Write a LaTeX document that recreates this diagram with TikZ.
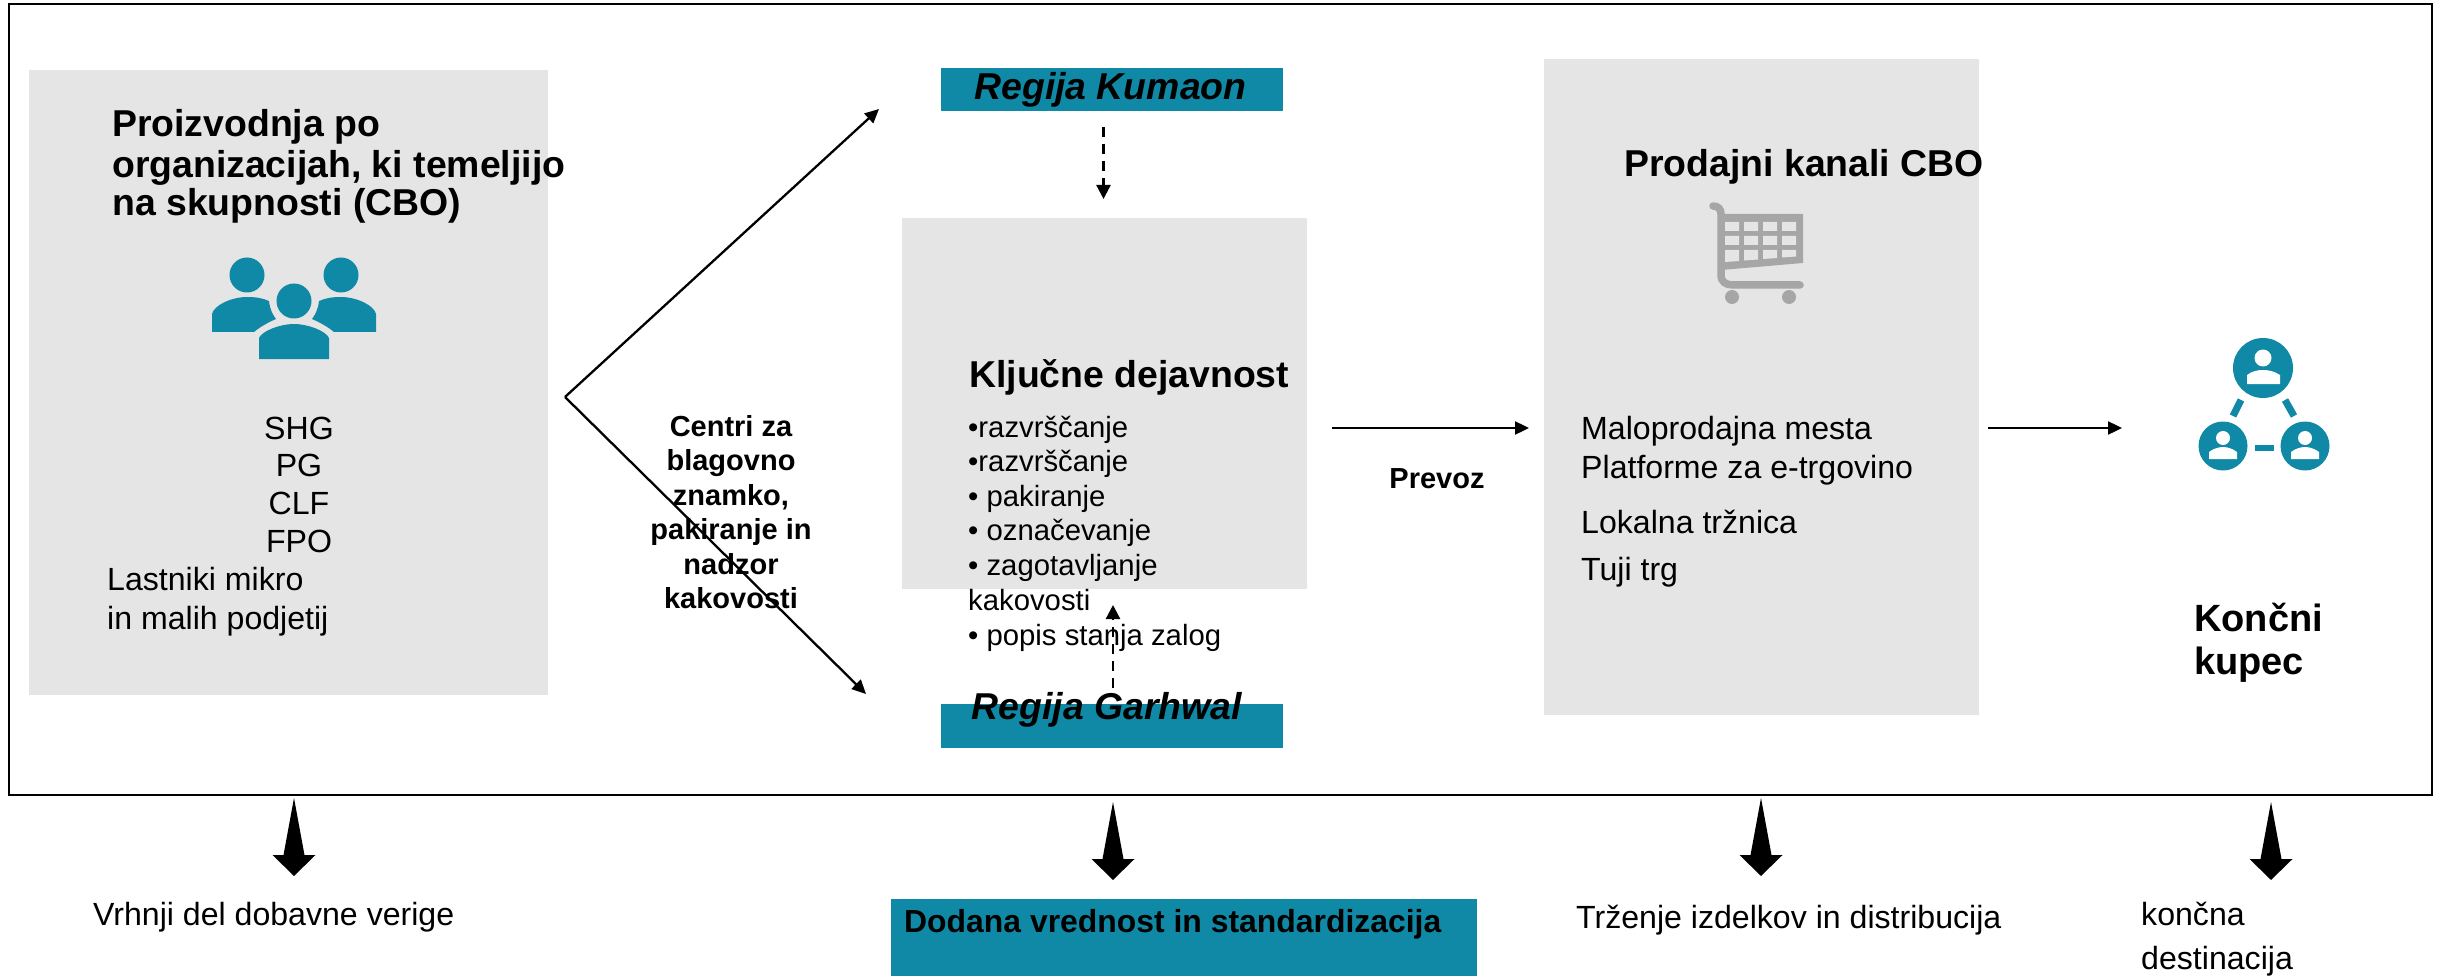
\documentclass[tikz,border=0pt]{standalone}
\usepackage{fontspec}
\setmainfont{Liberation Sans}
\usetikzlibrary{arrows.meta}
\definecolor{teal1}{HTML}{0F89A5}
\definecolor{boxg}{HTML}{E5E5E5}
\definecolor{cartg}{HTML}{A6A6A6}
\newcommand{\fs}[2]{\fontsize{#1}{#2}\selectfont}
\tikzset{
  x=1pt,y=-1pt,
  graybox/.style={fill=boxg,draw=none},
  tealbar/.style={fill=teal1,draw=none},
  icon/.style={fill=teal1,draw=none},
  carticon/.style={fill=cartg,draw=none},
  head/.style={inner sep=0,anchor=base west,align=left,font=\bfseries\fs{37.4}{40}},
  body/.style={inner sep=0,anchor=base west,align=left,font=\fs{32.1}{35}},
  cent/.style={inner sep=0,anchor=base,font=\bfseries\fs{29}{34.5}},
  ital/.style={inner sep=0,anchor=base,font=\bfseries\itshape\fs{37.4}{40}},
  lst/.style={inner sep=0,anchor=base west,font=\fs{29.3}{34}},
  flow/.style={line width=2.3pt,-{Triangle[length=14pt,width=13pt]}},
  dflow/.style={line width=2.3pt,dash pattern=on 10pt off 7pt,-{Triangle[length=14pt,width=14pt]}},
  downarrow/.style={fill=black,draw=none},
}
\begin{document}
\begin{tikzpicture}
\useasboundingbox (0,0) rectangle (2439,976);
\fill[white] (0,0) rectangle (2439,976);
\node[draw=black,line width=2pt,minimum width=2423pt,minimum height=790pt,inner sep=0,outer sep=0,anchor=north west] (frame) at (9,4.5) {};
\node[graybox,minimum width=519pt,minimum height=625pt,inner sep=0,anchor=north west] (left) at (28.5,70) {};
\node[graybox,minimum width=405pt,minimum height=371pt,inner sep=0,anchor=north west] (mid) at (902,218) {};
\node[graybox,minimum width=434.5pt,minimum height=656pt,inner sep=0,anchor=north west] (right) at (1544,59) {};
\node[tealbar,minimum width=342pt,minimum height=43pt,inner sep=0,anchor=north west] (kum) at (941,67.5) {};
\node[tealbar,minimum width=342pt,minimum height=44pt,inner sep=0,anchor=north west] (gar) at (941,704) {};
\node[tealbar,minimum width=586pt,minimum height=77pt,inner sep=0,anchor=north west] (dod) at (891,899) {};

% people icon
\fill[icon] (247,275) circle (17.5) (341,275) circle (17.5) (294,301) circle (17.5);
\fill[icon] (212,332) -- (212,314) .. controls (214,305) and (232,297) .. (247,297) .. controls (256,297) and (262,298) .. (269,301) .. controls (270,310) and (273,315) .. (276,319) .. controls (267,323) and (260,327) .. (254,332) -- cycle;
\fill[icon] (376,332) -- (376,314) .. controls (374,305) and (356,297) .. (341,297) .. controls (332,297) and (326,298) .. (319,301) .. controls (318,310) and (315,315) .. (312,319) .. controls (321,323) and (328,327) .. (334,332) -- cycle;
\fill[icon] (259,359) -- (259,338) .. controls (262,331) and (280,324) .. (294,324) .. controls (308,324) and (326,331) .. (329,338) -- (329,359) -- cycle;

% cart icon
\draw[cartg,line width=7.5pt,line cap=round] (1713,206) .. controls (1718,206) and (1721,209) .. (1721,214) -- (1721,275) .. controls (1721,282) and (1726,285) .. (1733,285) -- (1800,285);
\fill[carticon] (1721,214) -- (1803,214) -- (1803,263) -- (1721,270) -- cycle;
\fill[boxg] (1725,222) rectangle (1739,231) (1744,222) rectangle (1758,231) (1763,222) rectangle (1777,231) (1782,222) rectangle (1796,231)
 (1725,236) rectangle (1739,245) (1744,236) rectangle (1758,245) (1763,236) rectangle (1777,245) (1782,236) rectangle (1796,245);
\fill[boxg] (1725,250) -- (1739,250) -- (1739,261) -- (1725,262) -- cycle (1744,250) -- (1758,250) -- (1758,259.5) -- (1744,260.5) -- cycle (1763,250) -- (1777,250) -- (1777,258) -- (1763,259) -- cycle (1782,250) -- (1796,250) -- (1796,256.5) -- (1782,257.5) -- cycle;
\fill[carticon] (1732,297) circle (7) (1789,297) circle (7);

% network icon
\fill[icon] (2263,368) circle (30) (2223,446) circle (24.5) (2305,446) circle (24.5);
\draw[teal1,line width=7pt] (2241,400) -- (2233,416) (2285,400) -- (2294,416);
\draw[teal1,line width=6.5pt] (2255,448) -- (2274,448);
\fill[white] (2263,358) circle (8.5) (2223,438) circle (7) (2305,438) circle (7);
\fill[white] (2247,384) -- (2247,375) .. controls (2252,371) and (2258,370) .. (2263,370) .. controls (2268,370) and (2274,371) .. (2280,375) -- (2280,384) -- cycle;
\fill[white] (2209,459) -- (2209,452) .. controls (2213,449) and (2218,447) .. (2223,447) .. controls (2228,447) and (2233,449) .. (2237,452) -- (2237,459) -- cycle;
\fill[white] (2291,459) -- (2291,452) .. controls (2295,449) and (2300,447) .. (2305,447) .. controls (2310,447) and (2315,449) .. (2319,452) -- (2319,459) -- cycle;

% connectors
\coordinate (hub) at (565,397);
\coordinate (c1) at (879,109);
\coordinate (c2) at (866,694);
\coordinate (d1a) at (1103.5,127);
\coordinate (d1b) at (1103.5,199);
\coordinate (d2a) at (1113,688);
\coordinate (d2b) at (1113,605);
\coordinate (h1a) at (1332,428);
\coordinate (h1b) at (1529,428);
\coordinate (h2a) at (1988,428);
\coordinate (h2b) at (2122,428);
\draw[flow] (hub) -- (c1);
\draw[flow] (hub) -- (c2);
\draw[flow] (h1a) -- (h1b);
\draw[flow] (h2a) -- (h2b);
\draw[dflow] (d1a) -- (d1b);
\draw[dflow] (d2a) -- (d2b);

% block arrows
\foreach \cx/\ty in {294/798,1113/802,1761/798,2271/802}{
  \fill[downarrow] (\cx,\ty) -- ({\cx+10.5},{\ty+57}) -- ({\cx+21.5},{\ty+57}) -- (\cx,{\ty+78}) -- ({\cx-21.5},{\ty+57}) -- ({\cx-10.5},{\ty+57}) -- cycle;
}

% texts
\node[head] (t1) at (112,137) {Proizvodnja po};
\node[head] (t2) at (112,178) {organizacijah, ki temeljijo};
\node[head] (t3) at (112,216) {na skupnosti (CBO)};
\node[body,anchor=base] (s1) at (299,439) {SHG};
\node[body,anchor=base] (s2) at (299,476) {PG};
\node[body,anchor=base] (s3) at (299,514) {CLF};
\node[body,anchor=base] (s4) at (299,552) {FPO};
\node[body] (s5) at (107,590) {Lastniki mikro};
\node[body] (s6) at (107,629) {in malih podjetij};

\node[cent] (cz1) at (731,436) {Centri za};
\node[cent] (cz2) at (731,470) {blagovno};
\node[cent] (cz3) at (731,505) {znamko,};
\node[cent] (cz4) at (731,539) {pakiranje in};
\node[cent] (cz5) at (731,574) {nadzor};
\node[cent] (cz6) at (731,608) {kakovosti};

\node[ital] (tk) at (1110.5,100) {Regija Kumaon};
\node[ital] (tg) at (1107,719) {Regija Garhwal};

\node[head] (kd) at (969,387) {Ključne dejavnost};
\node[lst] (l1) at (968,437) {•razvrščanje};
\node[lst] (l2) at (968,471) {•razvrščanje};
\node[lst] (l3) at (968,506) {• pakiranje};
\node[lst] (l4) at (968,540) {• označevanje};
\node[lst] (l5) at (968,575) {• zagotavljanje};
\node[lst] (l6) at (968,610) {kakovosti};
\node[lst] (l7) at (968,645) {• popis stanja zalog};

\node[inner sep=0,anchor=base,font=\bfseries\fs{29}{34}] (pv) at (1437,488) {Prevoz};

\node[head] (pk) at (1624,177) {Prodajni kanali CBO};
\node[body] (r1) at (1581,439) {Maloprodajna mesta};
\node[body] (r2) at (1581,478) {Platforme za e-trgovino};
\node[body] (r3) at (1581,533) {Lokalna tržnica};
\node[body] (r4) at (1581,580) {Tuji trg};

\node[head,font=\bfseries\fs{38}{43}] (kk1) at (2194,631) {Končni};
\node[head,font=\bfseries\fs{38}{43}] (kk2) at (2194,674) {kupec};

\node[body] (b1) at (93,925) {Vrhnji del dobavne verige};
\node[inner sep=0,anchor=base west,font=\bfseries\fs{31.9}{38}] (b2) at (904,932) {Dodana vrednost in standardizacija};
\node[body] (b3) at (1576,928) {Trženje izdelkov in distribucija};
\node[body] (b4) at (2141,925) {končna};
\node[body] (b5) at (2141,969) {destinacija};
\end{tikzpicture}
\end{document}
